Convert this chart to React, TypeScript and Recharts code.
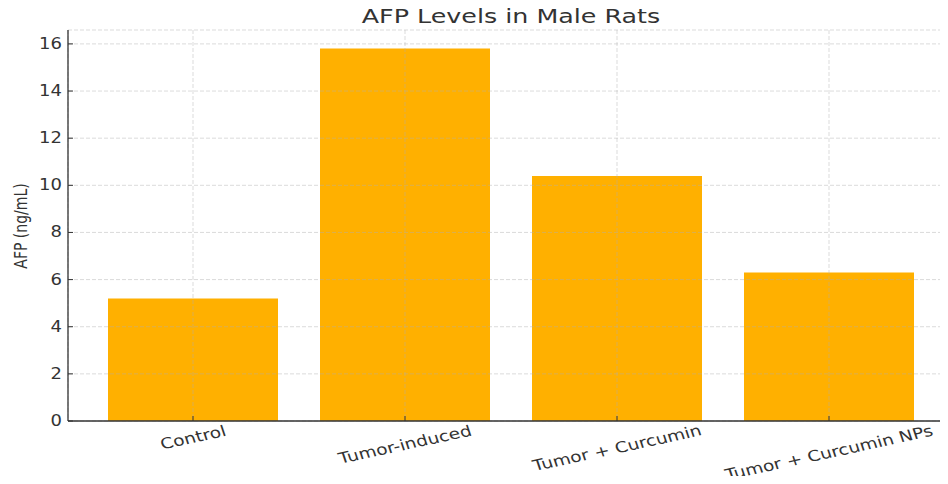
import { BarChart, Bar, XAxis, YAxis, CartesianGrid } from 'recharts';

const categories = ['Control', 'Tumor-induced', 'Tumor + Curcumin', 'Tumor + Curcumin NPs'];
const afpValues = [5.2, 15.8, 10.4, 6.3];
const yTicks = [0, 2, 4, 6, 8, 10, 12, 14, 16];

const data = categories.map((name, i) => ({ name, afp: afpValues[i] }));

const FONT = '"DejaVu Sans", sans-serif';
const TEXT = '#333333';
const STRETCH = 1.2;

const YTick = (props: any) => {
  const { x, y, payload } = props;
  return (
    <text
      transform={`translate(${x},${y}) scale(${STRETCH},1)`}
      textAnchor="end"
      dominantBaseline="central"
      fontFamily={FONT}
      fontSize={15}
      fill={TEXT}
    >
      {payload.value}
    </text>
  );
};

const XTick = (props: any) => {
  const { x, y, payload } = props;
  const label = String(payload.value);
  const w = label.length * 9;
  const a = (15 * Math.PI) / 180;
  const cy = y + 5 + (w * Math.sin(a) + 17 * Math.cos(a)) / 2;
  return (
    <text
      transform={`translate(${x},${cy}) scale(1.24,1) rotate(-15)`}
      textAnchor="middle"
      dominantBaseline="central"
      fontFamily={FONT}
      fontSize={15}
      fill={TEXT}
    >
      {label}
    </text>
  );
};

export default function App() {
  return (
    <div style={{ margin: -8, width: 948, height: 484, position: 'relative', background: '#fff' }}>
      <div
        style={{
          position: 'absolute',
          left: 511,
          top: 17,
          transform: 'translate(-50%,-50%) scaleX(1.3)',
          fontFamily: FONT,
          fontSize: 19.5,
          lineHeight: 1,
          color: TEXT,
          whiteSpace: 'nowrap',
        }}
      >
        AFP Levels in Male Rats
      </div>
      <div
        style={{
          position: 'absolute',
          left: 21,
          top: 225.5,
          transform: 'translate(-50%,-50%) scaleX(1.2) rotate(-90deg)',
          fontFamily: FONT,
          fontSize: 14,
          lineHeight: 1,
          color: TEXT,
          whiteSpace: 'nowrap',
        }}
      >
        AFP (ng/mL)
      </div>
      <BarChart
        width={948}
        height={484}
        data={data}
        margin={{ top: 30, right: 2, bottom: 0, left: 0 }}
      >
        <CartesianGrid
          stroke="#b0b0b0"
          strokeOpacity={0.45}
          strokeDasharray="4 2"
          strokeWidth={1}
          zIndex={1000}
        />
        <XAxis
          dataKey="name"
          height={63}
          padding={{ left: 19, right: 11 }}
          axisLine={{ stroke: TEXT, strokeWidth: 1.3 }}
          tickLine={{ stroke: TEXT, strokeWidth: 1 }}
          tickSize={-5}
          tickMargin={0}
          interval={0}
          tick={<XTick />}
          zIndex={1200}
        />
        <YAxis
          width={68}
          domain={[0, 16.59]}
          ticks={yTicks}
          allowDataOverflow
          axisLine={{ stroke: TEXT, strokeWidth: 1.3 }}
          tickLine={{ stroke: TEXT, strokeWidth: 1 }}
          tickSize={-5}
          tickMargin={11}
          tick={<YTick />}
          zIndex={1200}
        />
        <Bar dataKey="afp" fill="#FFB000" barSize={170} isAnimationActive={false} />
      </BarChart>
    </div>
  );
}
